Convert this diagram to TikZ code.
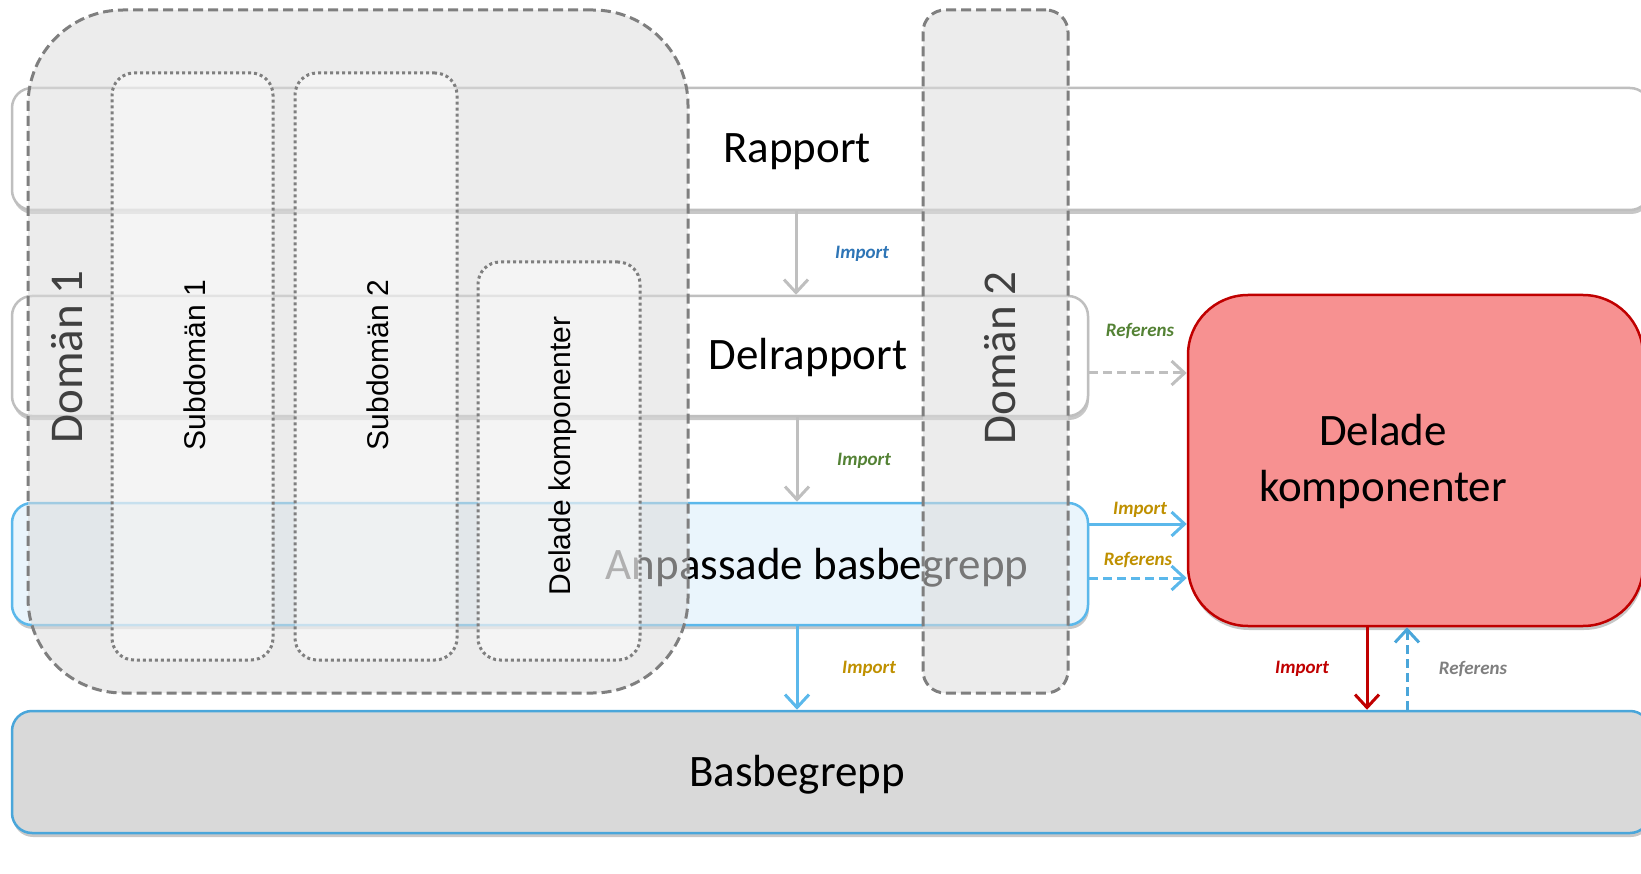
\documentclass[tikz,border=0pt]{standalone}
\usepackage{fontspec}
\setmainfont{Carlito}
\newfontfamily\arialf{Liberation Sans}
\usetikzlibrary{arrows.meta,shadows}
\definecolor{grayline}{HTML}{BFBFBF}
\definecolor{lblue}{HTML}{5BB8EB}
\definecolor{basline}{HTML}{4AA6DA}
\definecolor{redline}{HTML}{C00000}
\definecolor{redfill}{HTML}{F79191}
\definecolor{anpfill}{HTML}{EAF5FC}
\definecolor{basfill}{HTML}{D9D9D9}
\definecolor{domline}{HTML}{7F7F7F}
\definecolor{domfill}{HTML}{DCDCDC}
\definecolor{cblue}{HTML}{2E75B6}
\definecolor{cgreen}{HTML}{548235}
\definecolor{cgold}{HTML}{BF9000}
\definecolor{cred}{HTML}{C00000}
\definecolor{cgray}{HTML}{7F7F7F}
\definecolor{domtext}{HTML}{404040}
\begin{document}
\begin{tikzpicture}[x=1pt,y=-1pt,
  shadowed/.style={drop shadow={shadow xshift=1pt,shadow yshift=-4pt,opacity=.22,fill=black}},
  basebox/.style={rectangle,inner sep=0pt,line width=2.5pt,rounded corners=20pt},
  graybox/.style={basebox,draw=grayline,fill=white,shadowed},
  bluebox/.style={basebox,draw=lblue,fill=anpfill,shadowed},
  basbox/.style={basebox,draw=basline,fill=basfill,shadowed},
  redbox/.style={basebox,draw=redline,fill=redfill,rounded corners=60pt,shadowed},
  big/.style={font=\fontsize{45pt}{56pt}\selectfont,inner sep=0pt,align=center},
  lbl/.style={font=\fontsize{19pt}{22pt}\selectfont\bfseries\itshape,inner sep=0pt},
  dom/.style={rectangle,inner sep=0pt,draw=domline,line width=3pt,dash pattern=on 10pt off 5pt,fill=domfill,fill opacity=0.54,rounded corners=22pt},
  subdom/.style={rectangle,inner sep=0pt,draw=domline,line width=3pt,dash pattern=on 3pt off 3pt,fill=white,fill opacity=0.42,rounded corners=22pt},
  domlbl/.style={font=\fontsize{47pt}{50pt}\selectfont,text=domtext,inner sep=0pt,rotate=90},
  sublbl/.style={font=\arialf\fontsize{30pt}{34pt}\selectfont,inner sep=0pt,rotate=90},
  arr/.style={line width=3pt,-{Straight Barb[length=13pt,width=24pt]}},
  grayarr/.style={arr,draw=grayline},
  bluearr/.style={arr,draw=lblue},
  redarr/.style={arr,draw=redline},
  dsh/.style={dash pattern=on 9pt off 5pt}
]
\useasboundingbox (0,0) rectangle (1641,874);

% main boxes
\node[graybox,minimum width=1638pt,minimum height=122pt] (rapport) at (831,149) {};
\node[graybox,minimum width=1076pt,minimum height=120pt] (delrapport) at (550,356) {};
\node[bluebox,minimum width=1076pt,minimum height=122pt] (anpassade) at (550,564) {};
\node[basbox,minimum width=1638pt,minimum height=122pt] (basbegrepp) at (831,772) {};
\node[redbox,minimum width=455pt,minimum height=331pt] (delade) at (1415.5,460.5) {};

% box texts
\node[big] (trapport) at (797,152) {Rapport};
\node[big] (tdelrapport) at (808,358) {Delrapport};
\node[big] (tanpassade) at (817,568) {Anpassade basbegrepp};
\node[big] (tbas) at (797,775) {Basbegrepp};
\node[big] (tdelade) at (1383,462) {Delade\\komponenter};

% connector coordinates
\coordinate (xa) at (796,0);
\coordinate (xb) at (797,0);
\coordinate (xc) at (797,0);
\coordinate (xd) at (1367,0);
\coordinate (xe) at (1407,0);
\coordinate (ya) at (0,373);
\coordinate (yb) at (0,524);
\coordinate (yc) at (0,578);

% connectors
\draw[grayarr] (rapport.south -| xa) -- (delrapport.north -| xa);
\draw[grayarr] (delrapport.south -| xb) -- (anpassade.north -| xb);
\draw[grayarr,dsh] (delrapport.east |- ya) -- (delade.west |- ya);
\draw[bluearr] (anpassade.east |- yb) -- (delade.west |- yb);
\draw[bluearr,dsh] (anpassade.east |- yc) -- (delade.west |- yc);
\draw[bluearr] (anpassade.south -| xc) -- (basbegrepp.north -| xc);
\draw[redarr] (delade.south -| xd) -- (basbegrepp.north -| xd);
\draw[bluearr,dsh,draw=basline] (basbegrepp.north -| xe) -- (delade.south -| xe);

% connector labels
\node[lbl,text=cblue] (l1) at (862,254) {Import};
\node[lbl,text=cgreen] (l2) at (864,461) {Import};
\node[lbl,text=cgreen] (l3) at (1140,331) {Referens};
\node[lbl,text=cgold] (l4) at (1140,510) {Import};
\node[lbl,text=cgold] (l5) at (1138,560) {Referens};
\node[lbl,text=cgold] (l6) at (869,669) {Import};
\node[lbl,text=cred] (l7) at (1302,669) {Import};
\node[lbl,text=cgray] (l8) at (1473,669) {Referens};

% domains
\node[dom,rounded corners=95pt,minimum width=660pt,minimum height=683pt] (dom1) at (358,351.5) {};
\node[dom,minimum width=145pt,minimum height=683pt] (dom2) at (995.5,351.5) {};
\node[subdom,minimum width=161pt,minimum height=587pt] (sub1) at (192.5,366.5) {};
\node[subdom,minimum width=162pt,minimum height=587pt] (sub2) at (376,366.5) {};
\node[subdom,minimum width=162pt,minimum height=398pt] (subdel) at (559,461) {};

% domain labels
\node[domlbl] (tdom1) at (67,357) {Domän 1};
\node[domlbl] (tdom2) at (1000,358) {Domän 2};
\node[sublbl] (tsub1) at (195,365) {Subdomän 1};
\node[sublbl] (tsub2) at (378,365) {Subdomän 2};
\node[sublbl] (tsubdel) at (563,456) {Delade komponenter};
\end{tikzpicture}
\end{document}
